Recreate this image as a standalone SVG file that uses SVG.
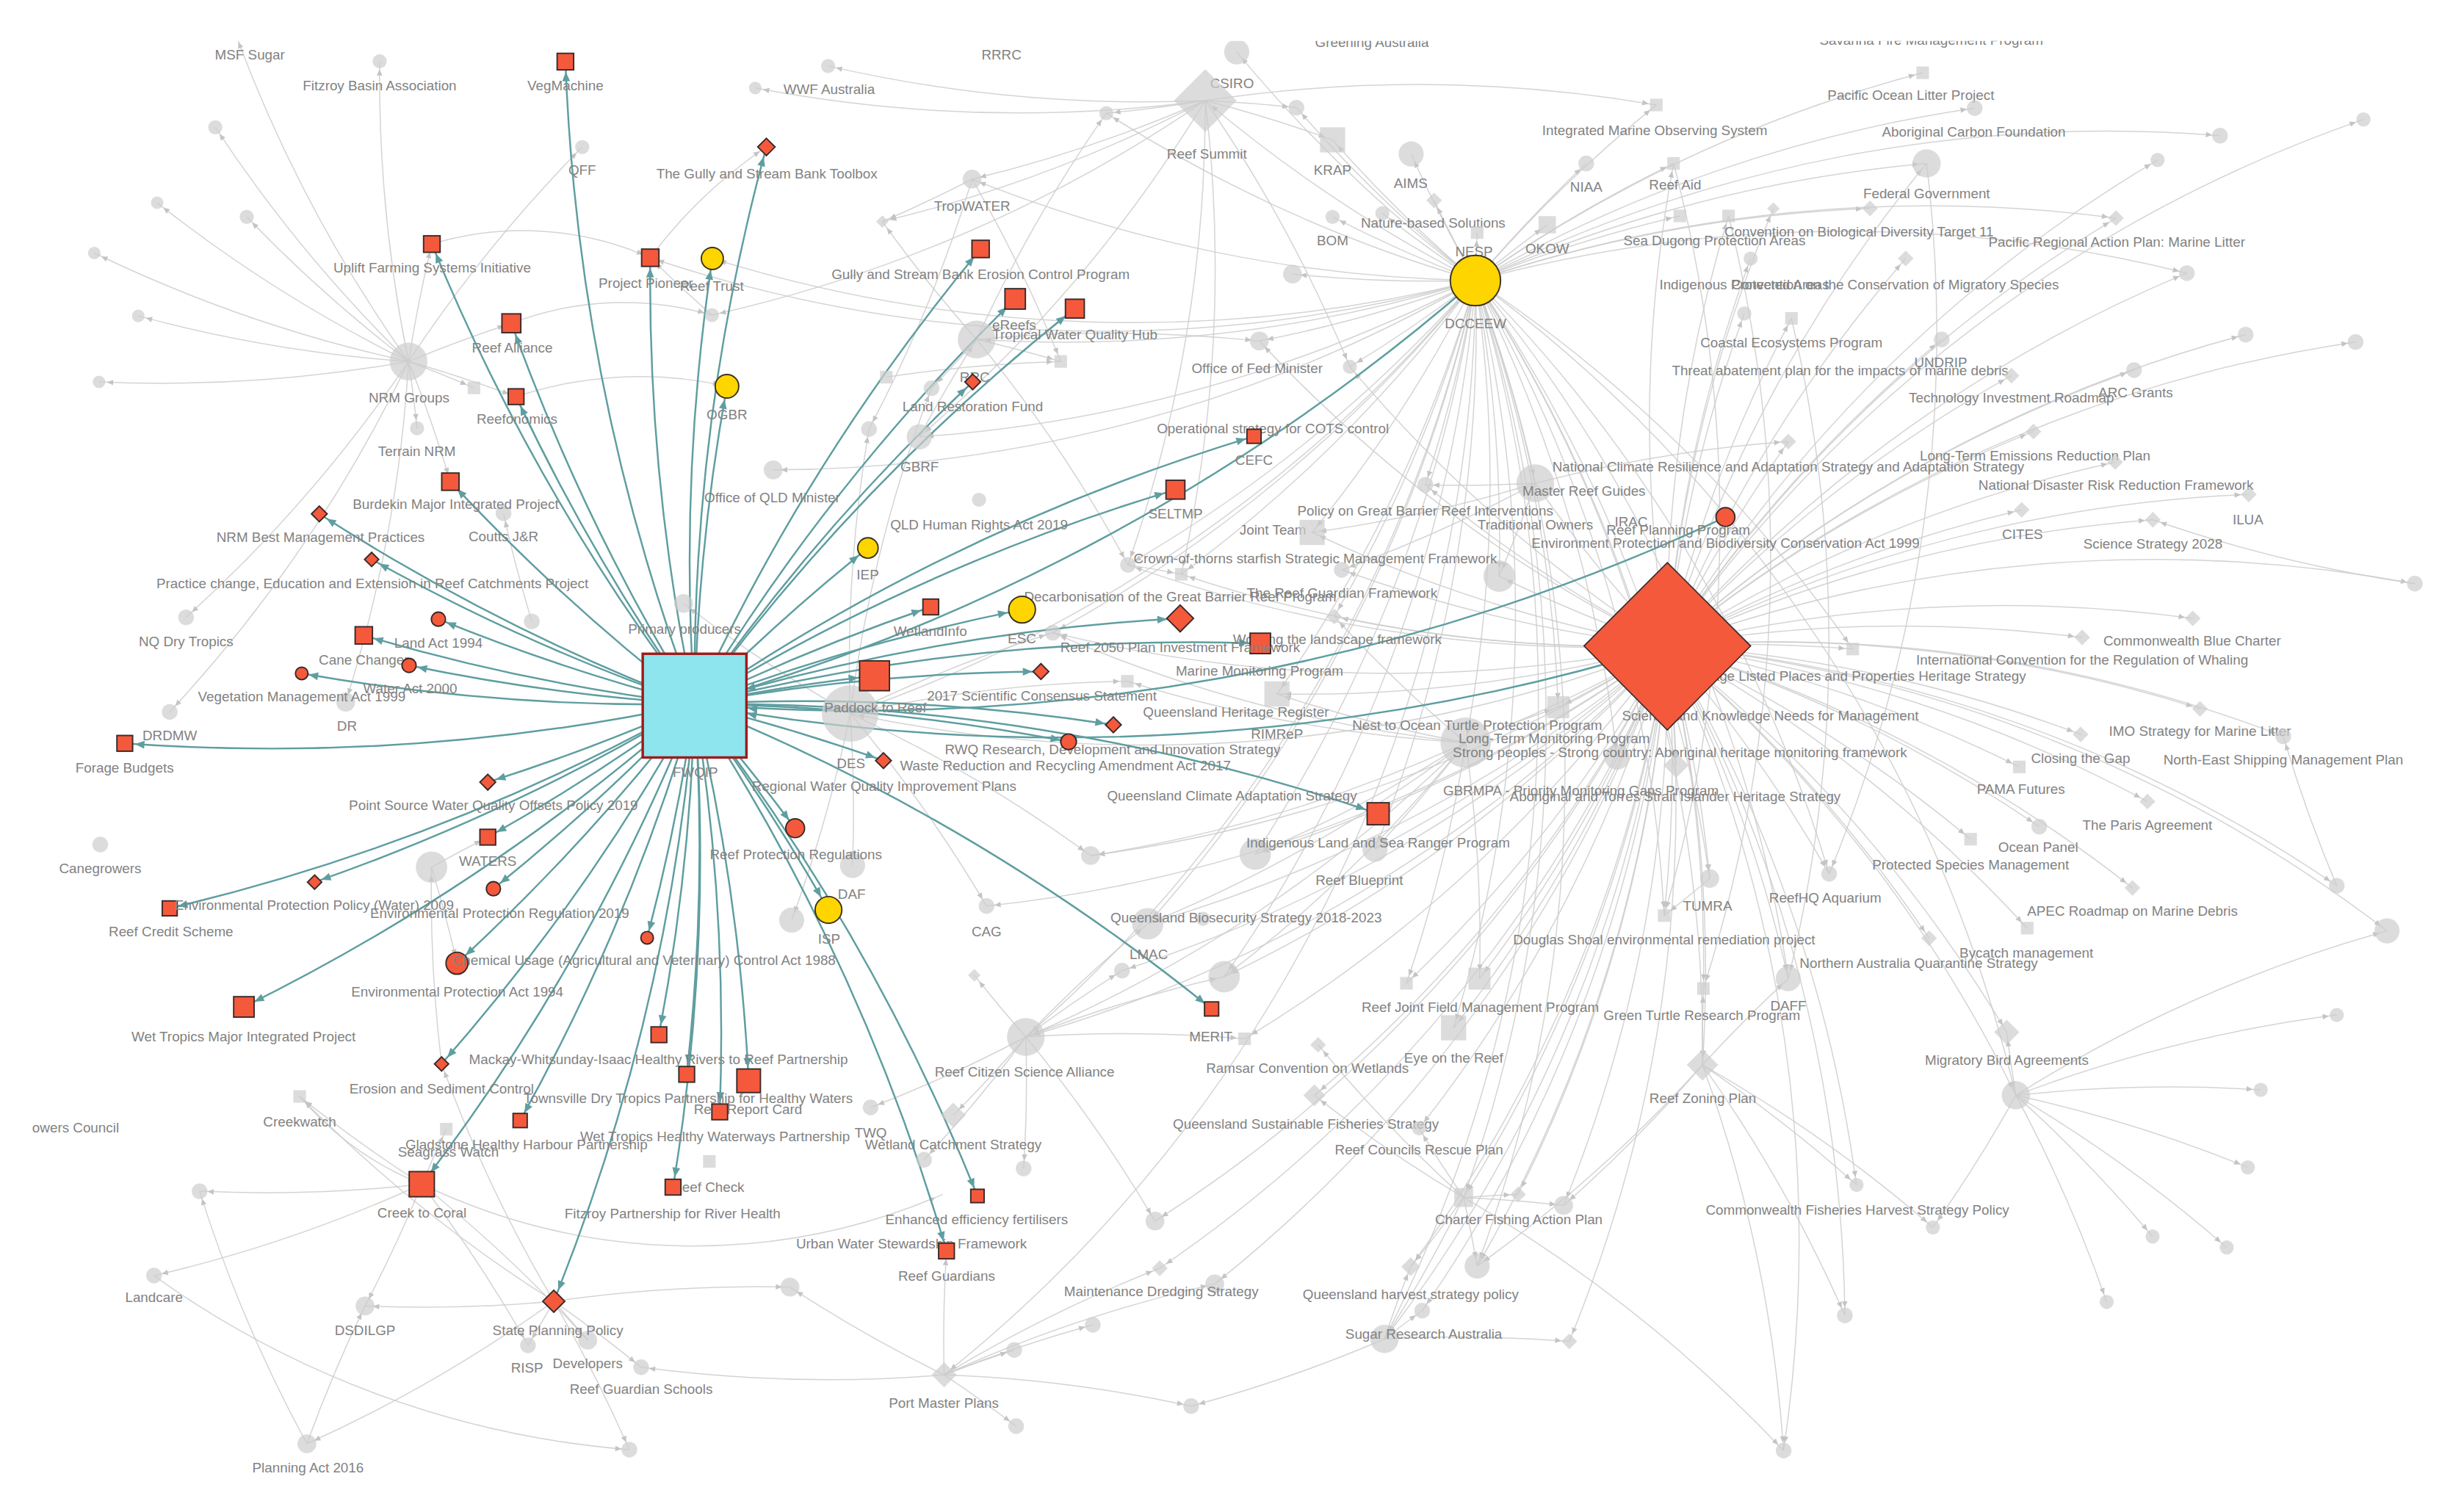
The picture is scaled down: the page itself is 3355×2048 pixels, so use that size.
<svg xmlns="http://www.w3.org/2000/svg" width="3355" height="2048" viewBox="0 0 3355 2048">
<defs>
<style>
.e{fill:none;stroke:#cdcdcd;stroke-width:.7;stroke-opacity:.85;marker-end:url(#ga)}
.t{fill:none;stroke:#5f9ea0;stroke-width:1.15}
.g{fill:#cdcdcd;fill-opacity:.7}
.r{fill:#f5593b;stroke:#3a2a2a;stroke-width:.9}
.y{fill:#ffd500;stroke:#3a3320;stroke-width:.9}
text{font-family:"Liberation Sans",Arial,Helvetica,sans-serif;font-size:8.8px;fill:#828282;text-anchor:middle}
</style>
<marker id="ga" markerUnits="userSpaceOnUse" markerWidth="4" markerHeight="3.5" refX="9" refY="1.75" orient="auto" overflow="visible"><path d="M0,0L4,1.75L0,3.5z" fill="#c4c4c4"/></marker>
<marker id="t4" markerUnits="userSpaceOnUse" markerWidth="6" markerHeight="5" refX="10.5" refY="2.5" orient="auto" overflow="visible"><path d="M0,0L6,2.5L0,5z" fill="#5f9ea0"/></marker>
<marker id="t5" markerUnits="userSpaceOnUse" markerWidth="6" markerHeight="5" refX="11.5" refY="2.5" orient="auto" overflow="visible"><path d="M0,0L6,2.5L0,5z" fill="#5f9ea0"/></marker>
<marker id="t6" markerUnits="userSpaceOnUse" markerWidth="6" markerHeight="5" refX="12.5" refY="2.5" orient="auto" overflow="visible"><path d="M0,0L6,2.5L0,5z" fill="#5f9ea0"/></marker>
<marker id="t7" markerUnits="userSpaceOnUse" markerWidth="6" markerHeight="5" refX="13.5" refY="2.5" orient="auto" overflow="visible"><path d="M0,0L6,2.5L0,5z" fill="#5f9ea0"/></marker>
<marker id="t8" markerUnits="userSpaceOnUse" markerWidth="6" markerHeight="5" refX="14.5" refY="2.5" orient="auto" overflow="visible"><path d="M0,0L6,2.5L0,5z" fill="#5f9ea0"/></marker>
<marker id="t9" markerUnits="userSpaceOnUse" markerWidth="6" markerHeight="5" refX="15.5" refY="2.5" orient="auto" overflow="visible"><path d="M0,0L6,2.5L0,5z" fill="#5f9ea0"/></marker>
<marker id="t10" markerUnits="userSpaceOnUse" markerWidth="6" markerHeight="5" refX="16.5" refY="2.5" orient="auto" overflow="visible"><path d="M0,0L6,2.5L0,5z" fill="#5f9ea0"/></marker>
<marker id="tF" markerUnits="userSpaceOnUse" markerWidth="6" markerHeight="5" refX="40" refY="2.5" orient="auto" overflow="visible"><path d="M0,0L6,2.5L0,5z" fill="#5f9ea0"/></marker>
<clipPath id="clip"><rect x="20" y="26" width="1536" height="927"/></clipPath>
</defs>
<rect width="3355" height="2048" fill="#ffffff"/>
<g transform="scale(2.1397 2.1400)" clip-path="url(#clip)">
<g id="connectors">
<g id="gray-edges">
<path class="e" d="M1061 411A900 900 0 0 1 1286.5 324.4"/>
<path class="e" d="M1061 411A900 900 0 0 1 1370 330.7"/>
<path class="e" d="M1061 411A900 900 0 0 1 1536.7 371.4"/>
<path class="e" d="M1061 411A900 900 0 0 1 1395.4 393.5"/>
<path class="e" d="M1061 411A900 900 0 0 1 1325 405.6"/>
<path class="e" d="M1061 411A900 900 0 0 1 1179 413"/>
<path class="e" d="M1061 411A900 900 0 0 1 1400 451"/>
<path class="e" d="M1061 411A900 900 0 0 1 1324 467.3"/>
<path class="e" d="M1061 411A900 900 0 0 1 1453 468.5"/>
<path class="e" d="M1061 411A900 900 0 0 1 1285 488"/>
<path class="e" d="M1061 411A900 900 0 0 1 1366.5 510"/>
<path class="e" d="M1061 411A900 900 0 0 1 1297.7 526"/>
<path class="e" d="M1061 411A900 900 0 0 1 1254 534"/>
<path class="e" d="M1061 411A900 900 0 0 1 1357 565"/>
<path class="e" d="M1061 411A900 900 0 0 1 1290 590.6"/>
<path class="e" d="M1061 411A900 900 0 0 1 1227.6 597"/>
<path class="e" d="M1061 411A900 900 0 0 1 1277 656.8"/>
<path class="e" d="M1061 411A900 900 0 0 1 1164 556"/>
<path class="e" d="M1061 411A900 900 0 0 1 1088 559"/>
<path class="e" d="M1061 411A900 900 0 0 1 1059 582.6"/>
<path class="e" d="M1061 411A900 900 0 0 1 1138 622.7"/>
<path class="e" d="M1061 411A900 900 0 0 1 1084 629"/>
<path class="e" d="M1061 411A900 900 0 0 1 1083.4 677.6"/>
<path class="e" d="M1061 411A900 900 0 0 1 1181.4 754"/>
<path class="e" d="M1061 411A900 900 0 0 1 1066.6 487"/>
<path class="e" d="M1061 411A900 900 0 0 1 991.6 450"/>
<path class="e" d="M1061 411A900 900 0 0 1 1029 481.8"/>
<path class="e" d="M1061 411A900 900 0 0 1 932.7 472.5"/>
<path class="e" d="M1061 411A900 900 0 0 1 977 307.5"/>
<path class="e" d="M1061 411A900 900 0 0 1 1114 164.5"/>
<path class="e" d="M1061 411A900 900 0 0 1 1110 199.5"/>
<path class="e" d="M1061 411A900 900 0 0 1 1140 202.6"/>
<path class="e" d="M1061 411A900 900 0 0 1 1138 281"/>
<path class="e" d="M1061 411A900 900 0 0 1 1235.6 216"/>
<path class="e" d="M1061 411A900 900 0 0 1 1280 239"/>
<path class="e" d="M1061 411A900 900 0 0 1 1294 274.6"/>
<path class="e" d="M1061 411A900 900 0 0 1 1346 294"/>
<path class="e" d="M1061 411A900 900 0 0 1 1431 314.6"/>
<path class="e" d="M1061 411A900 900 0 0 1 1358 235.5"/>
<path class="e" d="M1061 411A900 900 0 0 1 1346.5 138.8"/>
<path class="e" d="M1061 411A900 900 0 0 1 1212.7 164.5"/>
<path class="e" d="M1061 411A900 900 0 0 1 1128.5 132.7"/>
<path class="e" d="M1061 411A900 900 0 0 1 1100 137.4"/>
<path class="e" d="M1061 411A900 900 0 0 1 1065 104"/>
<path class="e" d="M1061 411A900 900 0 0 1 1226 104"/>
<path class="e" d="M1061 411A900 900 0 0 1 835 338.8"/>
<path class="e" d="M1061 411A900 900 0 0 1 954 366.6"/>
<path class="e" d="M1061 411A900 900 0 0 1 812.6 441.6"/>
<path class="e" d="M1061 411A900 900 0 0 1 849 392.3"/>
<path class="e" d="M1061 411A900 900 0 0 1 925 654"/>
<path class="e" d="M1061 411A900 900 0 0 1 941.5 622.7"/>
<path class="e" d="M1061 411A900 900 0 0 1 931.4 762"/>
<path class="e" d="M1061 411A900 900 0 0 1 995 767"/>
<path class="e" d="M1061 411A900 900 0 0 1 881 852"/>
<path class="e" d="M1061 411A900 900 0 0 1 998.6 853.5"/>
<path class="e" d="M1061 411A900 900 0 0 1 836.4 697"/>
<path class="e" d="M1061 411A900 900 0 0 1 730.4 587.8"/>
<path class="e" d="M1061 411A900 900 0 0 1 779 621.5"/>
<path class="e" d="M1061 411A900 900 0 0 1 875 540.4"/>
<path class="e" d="M1061 411A900 900 0 0 1 798.8 543.5"/>
<path class="e" d="M1061 411A900 900 0 0 1 1487 563.6"/>
<path class="e" d="M1061 411A900 900 0 0 1 1519 592.3"/>
<path class="e" d="M1061 411A900 900 0 0 1 1174 837"/>
<path class="e" d="M1061 411A900 900 0 0 1 1135 923"/>
<path class="e" d="M1061 411A900 900 0 0 1 1282.8 697"/>
<path class="e" d="M1061 411A900 900 0 0 1 1391.6 173.8"/>
<path class="e" d="M1061 411A900 900 0 0 1 1429 212.9"/>
<path class="e" d="M1061 411A900 900 0 0 1 1499 217.6"/>
<path class="e" d="M1061 411A900 900 0 0 1 1373 101.8"/>
<path class="e" d="M1061 411A900 900 0 0 1 1504 76"/>
<path class="e" d="M1061 411A900 900 0 0 1 652.8 659.8"/>
<path class="e" d="M1061 411A900 900 0 0 1 541 454"/>
<path class="e" d="M1061 411A900 900 0 0 1 627.8 576.5"/>
<path class="e" d="M1061 411A900 900 0 0 1 694 544.4"/>
<path class="e" d="M1061 411A900 900 0 0 1 714 617.6"/>
<path class="e" d="M1061 411A900 900 0 0 1 670 402.6"/>
<path class="e" d="M1061 411A900 900 0 0 1 717.8 359.4"/>
<path class="e" d="M1061 411A900 900 0 0 1 751.7 365.4"/>
<path class="e" d="M1061 411A900 900 0 0 1 801.4 217"/>
<path class="e" d="M1061 411A900 900 0 0 1 859 233.4"/>
<path class="e" d="M1061 411A900 900 0 0 1 907 308.5"/>
<path class="e" d="M1061 411A900 900 0 0 1 853.8 362.6"/>
<path class="e" d="M1061 411A900 900 0 0 1 895 625.7"/>
<path class="e" d="M1061 411A900 900 0 0 1 792 661"/>
<path class="e" d="M1061 411A900 900 0 0 1 735 777"/>
<path class="e" d="M1061 411A900 900 0 0 1 773 817"/>
<path class="e" d="M1061 411A900 900 0 0 1 738 807"/>
<path class="e" d="M1061 411A900 900 0 0 1 897.7 806"/>
<path class="e" d="M1061 411A900 900 0 0 1 940 805.6"/>
<path class="e" d="M1061 411A900 900 0 0 1 905 834"/>
<path class="e" d="M1061 411A900 900 0 0 1 966 760"/>
<path class="e" d="M1061 411A900 900 0 0 1 903 718"/>
<path class="e" d="M939 178.5A900 900 0 0 1 787 33"/>
<path class="e" d="M939 178.5A900 900 0 0 1 848 89"/>
<path class="e" d="M939 178.5A900 900 0 0 1 898 98"/>
<path class="e" d="M939 178.5A900 900 0 0 1 912.6 127.5"/>
<path class="e" d="M939 178.5A900 900 0 0 1 848 138"/>
<path class="e" d="M939 178.5A900 900 0 0 1 879.7 135.7"/>
<path class="e" d="M939 178.5A900 900 0 0 1 822.5 174.4"/>
<path class="e" d="M939 178.5A900 900 0 0 1 801.4 217"/>
<path class="e" d="M939 178.5A900 900 0 0 1 940 148"/>
<path class="e" d="M939 178.5A900 900 0 0 1 984.6 143"/>
<path class="e" d="M939 178.5A900 900 0 0 1 1009.4 104"/>
<path class="e" d="M939 178.5A900 900 0 0 1 1054 66.8"/>
<path class="e" d="M939 178.5A900 900 0 0 1 1065 104"/>
<path class="e" d="M939 178.5A900 900 0 0 1 1069 137.4"/>
<path class="e" d="M939 178.5A900 900 0 0 1 1226 104"/>
<path class="e" d="M939 178.5A900 900 0 0 1 1256.6 68.8"/>
<path class="e" d="M939 178.5A900 900 0 0 1 1223.5 46.3"/>
<path class="e" d="M939 178.5A900 900 0 0 1 977 307.5"/>
<path class="e" d="M939 178.5A900 900 0 0 1 907 308.5"/>
<path class="e" d="M939 178.5A900 900 0 0 1 859 233.4"/>
<path class="e" d="M939 178.5A900 900 0 0 1 767 64"/>
<path class="e" d="M939 178.5A900 900 0 0 1 492 299"/>
<path class="e" d="M939 178.5A900 900 0 0 1 585 278"/>
<path class="e" d="M939 178.5A900 900 0 0 1 621.5 216"/>
<path class="e" d="M939 178.5A900 900 0 0 1 932.7 472.5"/>
<path class="e" d="M939 178.5A900 900 0 0 1 1029 481.8"/>
<path class="e" d="M939 178.5A900 900 0 0 1 1083.4 677.6"/>
<path class="e" d="M939 178.5A900 900 0 0 1 925 654"/>
<path class="e" d="M939 178.5A900 900 0 0 1 954 366.6"/>
<path class="e" d="M939 178.5A900 900 0 0 1 835 338.8"/>
<path class="e" d="M939 178.5A900 900 0 0 1 1190 132.6"/>
<path class="e" d="M939 178.5A900 900 0 0 1 825 68.5"/>
<path class="e" d="M939 178.5A900 900 0 0 1 704 72"/>
<path class="e" d="M939 178.5A900 900 0 0 1 618.6 114"/>
<path class="e" d="M939 178.5A900 900 0 0 1 413.8 164"/>
<path class="e" d="M939 178.5A900 900 0 0 1 453.3 164.5"/>
<path class="e" d="M939 178.5A900 900 0 0 1 1412.7 86.3"/>
<path class="e" d="M939 178.5A900 900 0 0 1 1391.6 173.8"/>
<path class="e" d="M939 178.5A900 900 0 0 1 1346.5 138.8"/>
<path class="e" d="M939 178.5A900 900 0 0 1 812.6 441.6"/>
<path class="e" d="M939 178.5A900 900 0 0 1 991.6 450"/>
<path class="e" d="M939 178.5A900 900 0 0 1 1138 622.7"/>
<path class="e" d="M939 178.5A900 900 0 0 1 881 852"/>
<path class="e" d="M939 178.5A900 900 0 0 1 931.4 762"/>
<path class="e" d="M939 178.5A900 900 0 0 1 940 805.6"/>
<path class="e" d="M939 178.5A900 900 0 0 1 600.8 874.8"/>
<path class="e" d="M939 178.5A900 900 0 0 1 652.8 659.8"/>
<path class="e" d="M939 178.5A900 900 0 0 1 730.4 587.8"/>
<path class="e" d="M939 178.5A900 900 0 0 1 798.8 543.5"/>
<path class="e" d="M939 178.5A900 900 0 0 1 875 540.4"/>
<path class="e" d="M939 178.5A900 900 0 0 1 779 621.5"/>
<path class="e" d="M939 178.5A900 900 0 0 1 1066.6 487"/>
<path class="e" d="M939 178.5A900 900 0 0 1 1179 413"/>
<path class="e" d="M939 178.5A900 900 0 0 1 1164 556"/>
<path class="e" d="M939 178.5A900 900 0 0 1 1088 559"/>
<path class="e" d="M939 178.5A900 900 0 0 1 849 392.3"/>
<path class="e" d="M939 178.5A900 900 0 0 1 751.7 365.4"/>
<path class="e" d="M939 178.5A900 900 0 0 1 717.8 359.4"/>
<path class="e" d="M939 178.5A900 900 0 0 1 670 402.6"/>
<path class="e" d="M939 178.5A900 900 0 0 1 541 454"/>
<path class="e" d="M939 178.5A900 900 0 0 1 1282.8 697"/>
<path class="e" d="M939 178.5A900 900 0 0 1 1059 582.6"/>
<path class="e" d="M767 64A900 900 0 0 1 751.7 365.4"/>
<path class="e" d="M767 64A900 900 0 0 1 585 278"/>
<path class="e" d="M767 64A900 900 0 0 1 717.8 359.4"/>
<path class="e" d="M767 64A900 900 0 0 1 859 233.4"/>
<path class="e" d="M621.5 216A900 900 0 0 1 561.5 141"/>
<path class="e" d="M621.5 216A900 900 0 0 1 704 72"/>
<path class="e" d="M621.5 216A900 900 0 0 1 675 230"/>
<path class="e" d="M621.5 216A900 900 0 0 1 592.8 247"/>
<path class="e" d="M621.5 216A900 900 0 0 1 717.8 359.4"/>
<path class="e" d="M621.5 216A900 900 0 0 1 801.4 217"/>
<path class="e" d="M618.6 114A900 900 0 0 1 561.5 141"/>
<path class="e" d="M618.6 114A900 900 0 0 1 675 230"/>
<path class="e" d="M618.6 114A900 900 0 0 1 553 273"/>
<path class="e" d="M932.7 472.5A900 900 0 0 1 730.4 587.8"/>
<path class="e" d="M932.7 472.5A900 900 0 0 1 779 621.5"/>
<path class="e" d="M932.7 472.5A900 900 0 0 1 652.8 659.8"/>
<path class="e" d="M932.7 472.5A900 900 0 0 1 717.4 433.5"/>
<path class="e" d="M932.7 472.5A900 900 0 0 1 670 402.6"/>
<path class="e" d="M932.7 472.5A900 900 0 0 1 694 544.4"/>
<path class="e" d="M1065 104A900 900 0 0 1 1059 582.6"/>
<path class="e" d="M1140 202.6A900 900 0 0 1 1138 622.7"/>
<path class="e" d="M1226 104A900 900 0 0 1 1164 556"/>
<path class="e" d="M1100 137.4A900 900 0 0 1 1084 629"/>
<path class="e" d="M260 230A900 900 0 0 1 137 81"/>
<path class="e" d="M260 230A900 900 0 0 1 100 129"/>
<path class="e" d="M260 230A900 900 0 0 1 157 138"/>
<path class="e" d="M260 230A900 900 0 0 1 60 161"/>
<path class="e" d="M260 230A900 900 0 0 1 88 201"/>
<path class="e" d="M260 230A900 900 0 0 1 63 243"/>
<path class="e" d="M260 230A900 900 0 0 1 241.6 39"/>
<path class="e" d="M260 230A900 900 0 0 1 150 22"/>
<path class="e" d="M260 230A900 900 0 0 1 265.4 272.5"/>
<path class="e" d="M260 230A900 900 0 0 1 301.6 246.8"/>
<path class="e" d="M260 230A900 900 0 0 1 274.8 155.3"/>
<path class="e" d="M260 230A900 900 0 0 1 325.4 205.7"/>
<path class="e" d="M260 230A900 900 0 0 1 118.4 392.8"/>
<path class="e" d="M260 230A900 900 0 0 1 220 446.8"/>
<path class="e" d="M260 230A900 900 0 0 1 108 453"/>
<path class="e" d="M260 230A900 900 0 0 1 286.6 306.5"/>
<path class="e" d="M260 230A900 900 0 0 1 328.4 252.4"/>
<path class="e" d="M260 230A900 900 0 0 1 370.5 93.6"/>
<path class="e" d="M274.8 155.3A200 200 0 0 1 413.8 164"/>
<path class="e" d="M325.4 205.7A200 200 0 0 1 453 200.5"/>
<path class="e" d="M328.4 252.4A250 250 0 0 1 462.6 245.8"/>
<path class="e" d="M413.8 164A300 300 0 0 1 487.7 93.5"/>
<path class="e" d="M268.4 753.5A900 900 0 0 1 98 811.7"/>
<path class="e" d="M268.4 753.5A900 900 0 0 1 190.7 697.7"/>
<path class="e" d="M268.4 753.5A900 900 0 0 1 284 718.5"/>
<path class="e" d="M268.4 753.5A900 900 0 0 1 232.3 831"/>
<path class="e" d="M268.4 753.5A900 900 0 0 1 374 852.8"/>
<path class="e" d="M268.4 753.5A900 900 0 0 1 127 758"/>
<path class="e" d="M268.4 753.5A900 900 0 0 1 336 856"/>
<path class="e" d="M190.7 697.7A200 200 0 0 0 268.4 753.5"/>
<path class="e" d="M268.4 753.5A400 400 0 0 0 600 760"/>
<path class="e" d="M352.4 828A900 900 0 0 1 232.3 831"/>
<path class="e" d="M352.4 828A900 900 0 0 1 336 856"/>
<path class="e" d="M352.4 828A900 900 0 0 1 374 852.8"/>
<path class="e" d="M352.4 828A900 900 0 0 1 408 870"/>
<path class="e" d="M352.4 828A900 900 0 0 1 195.3 918.7"/>
<path class="e" d="M352.4 828A900 900 0 0 1 400.5 922.4"/>
<path class="e" d="M352.4 828A900 900 0 0 1 281 677"/>
<path class="e" d="M352.4 828A900 900 0 0 1 502.7 819"/>
<path class="e" d="M352.4 828A900 900 0 0 1 190.7 697.7"/>
<path class="e" d="M195.3 918.7A900 900 0 0 1 127 758"/>
<path class="e" d="M195.3 918.7A900 900 0 0 1 232.3 831"/>
<path class="e" d="M98 811.7A600 600 0 0 0 400.5 922.4"/>
<path class="e" d="M767 64A900 900 0 0 1 527 42"/>
<path class="e" d="M767 64A900 900 0 0 1 480.6 56"/>
<path class="e" d="M767 64A900 900 0 0 1 618.6 114"/>
<path class="e" d="M767 64A900 900 0 0 1 704 72"/>
<path class="e" d="M767 64A900 900 0 0 1 561.5 141"/>
<path class="e" d="M767 64A900 900 0 0 1 825 68.5"/>
<path class="e" d="M767 64A900 900 0 0 1 848 89"/>
<path class="e" d="M767 64A900 900 0 0 1 1054 66.8"/>
<path class="e" d="M767 64A900 900 0 0 1 453 200.5"/>
<path class="e" d="M600.8 874.8A900 900 0 0 1 502.7 819"/>
<path class="e" d="M600.8 874.8A900 900 0 0 1 695.4 843"/>
<path class="e" d="M600.8 874.8A900 900 0 0 1 645.4 859"/>
<path class="e" d="M600.8 874.8A900 900 0 0 1 738 807"/>
<path class="e" d="M600.8 874.8A900 900 0 0 1 773 817"/>
<path class="e" d="M600.8 874.8A900 900 0 0 1 408 870"/>
<path class="e" d="M600.8 874.8A900 900 0 0 1 646.6 907.5"/>
<path class="e" d="M600.8 874.8A900 900 0 0 1 758 894.7"/>
<path class="e" d="M600.8 874.8A900 900 0 0 1 602.3 796"/>
<path class="e" d="M652.8 659.8A900 900 0 0 1 606.6 709.6"/>
<path class="e" d="M652.8 659.8A900 900 0 0 1 554 704.7"/>
<path class="e" d="M652.8 659.8A900 900 0 0 1 588 738"/>
<path class="e" d="M652.8 659.8A900 900 0 0 1 651.4 743.5"/>
<path class="e" d="M652.8 659.8A900 900 0 0 1 735 777"/>
<path class="e" d="M652.8 659.8A900 900 0 0 1 730.4 587.8"/>
<path class="e" d="M652.8 659.8A900 900 0 0 1 779 621.5"/>
<path class="e" d="M652.8 659.8A900 900 0 0 1 620 620.6"/>
<path class="e" d="M652.8 659.8A900 900 0 0 1 714 617.6"/>
<path class="e" d="M652.8 659.8A900 900 0 0 1 792 661"/>
<path class="e" d="M931.4 762A900 900 0 0 1 897.7 806"/>
<path class="e" d="M931.4 762A900 900 0 0 1 940 805.6"/>
<path class="e" d="M931.4 762A900 900 0 0 1 966 760"/>
<path class="e" d="M931.4 762A900 900 0 0 1 995 767"/>
<path class="e" d="M931.4 762A900 900 0 0 1 838.8 664.8"/>
<path class="e" d="M931.4 762A900 900 0 0 1 836.4 697"/>
<path class="e" d="M931.4 762A900 900 0 0 1 881 852"/>
<path class="e" d="M931.4 762A900 900 0 0 1 1135 923"/>
<path class="e" d="M931.4 762A900 900 0 0 1 903 718"/>
<path class="e" d="M881 852A900 900 0 0 1 905 834"/>
<path class="e" d="M881 852A900 900 0 0 1 998.6 853.5"/>
<path class="e" d="M881 852A900 900 0 0 1 897.7 806"/>
<path class="e" d="M881 852A900 900 0 0 1 758 894.7"/>
<path class="e" d="M1083.4 677.6A900 900 0 0 1 1174 837"/>
<path class="e" d="M1083.4 677.6A900 900 0 0 1 1181.4 754"/>
<path class="e" d="M1083.4 677.6A900 900 0 0 1 1084 629"/>
<path class="e" d="M1083.4 677.6A900 900 0 0 1 1138 622.7"/>
<path class="e" d="M1083.4 677.6A900 900 0 0 1 995 767"/>
<path class="e" d="M1083.4 677.6A900 900 0 0 1 940 805.6"/>
<path class="e" d="M1083.4 677.6A900 900 0 0 1 1230 781"/>
<path class="e" d="M1083.4 677.6A900 900 0 0 1 1135 923"/>
<path class="e" d="M1282.8 697A900 900 0 0 1 1438.6 693.5"/>
<path class="e" d="M1282.8 697A900 900 0 0 1 1430.4 742.8"/>
<path class="e" d="M1282.8 697A900 900 0 0 1 1369.8 786.8"/>
<path class="e" d="M1282.8 697A900 900 0 0 1 1417 793.8"/>
<path class="e" d="M1282.8 697A900 900 0 0 1 1340.6 828.4"/>
<path class="e" d="M1282.8 697A900 900 0 0 1 1277 656.8"/>
<path class="e" d="M1282.8 697A900 900 0 0 1 1230 781"/>
<path class="e" d="M1282.8 697A900 900 0 0 1 1487 645.8"/>
<path class="e" d="M1282.8 697A900 900 0 0 1 1519 592.3"/>
<path class="e" d="M977 307.5A900 900 0 0 1 907 308.5"/>
<path class="e" d="M977 307.5A900 900 0 0 1 954 366.6"/>
<path class="e" d="M977 307.5A900 900 0 0 1 853.8 362.6"/>
<path class="e" d="M977 307.5A900 900 0 0 1 835 338.8"/>
<path class="e" d="M977 307.5A900 900 0 0 1 1138 281"/>
<path class="e" d="M932.7 472.5A900 900 0 0 1 849 392.3"/>
<path class="e" d="M932.7 472.5A900 900 0 0 1 812.6 441.6"/>
<path class="e" d="M932.7 472.5A900 900 0 0 1 875 540.4"/>
<path class="e" d="M932.7 472.5A900 900 0 0 1 798.8 543.5"/>
<path class="e" d="M932.7 472.5A900 900 0 0 1 941.5 622.7"/>
<path class="e" d="M932.7 472.5A900 900 0 0 1 895 625.7"/>
<path class="e" d="M932.7 472.5A900 900 0 0 1 991.6 450"/>
<path class="e" d="M541 454A900 900 0 0 1 627.8 576.5"/>
<path class="e" d="M541 454A900 900 0 0 1 542.5 550.7"/>
<path class="e" d="M541 454A900 900 0 0 1 503.8 585.5"/>
<path class="e" d="M541 454A900 900 0 0 1 694 544.4"/>
<path class="e" d="M541 454A900 900 0 0 1 435 384"/>
<path class="e" d="M541 454A900 900 0 0 1 670 402.6"/>
<path class="e" d="M541 454A900 900 0 0 1 717.4 433.5"/>
<path class="e" d="M541 454A900 900 0 0 1 592.8 247"/>
<path class="e" d="M541 454A900 900 0 0 1 553 273"/>
<path class="e" d="M585 278A900 900 0 0 1 621.5 216"/>
<path class="e" d="M564 240A900 900 0 0 1 675 230"/>
<path class="e" d="M717.8 359.4A900 900 0 0 1 751.7 365.4"/>
<path class="e" d="M1088 559A900 900 0 0 1 1059 582.6"/>
<path class="e" d="M1487 563.6A900 900 0 0 1 1453 468.5"/>
<path class="e" d="M338.4 395.4A900 900 0 0 1 320.4 326.6"/>
<path class="e" d="M274.6 551.8A900 900 0 0 1 310.4 532.7"/>
<path class="e" d="M274.6 551.8A900 900 0 0 1 290.8 612.9"/>
<path class="e" d="M281 677A900 900 0 0 1 274.6 551.8"/>
<path class="e" d="M1536.7 371.4A900 900 0 0 1 1370 330.7"/>
<path class="e" d="M453 200.5A900 900 0 0 1 413.8 164"/>
</g>
<g id="fwqip-edges">
<path class="t" d="M442 448A1300 1300 0 0 1 359.8 39.2" marker-end="url(#t6)"/>
<path class="t" d="M442 448A1300 1300 0 0 1 274.8 155.3" marker-end="url(#t6)"/>
<path class="t" d="M442 448A1300 1300 0 0 1 413.8 164" marker-end="url(#t6)"/>
<path class="t" d="M442 448A1300 1300 0 0 1 325.4 205.7" marker-end="url(#t7)"/>
<path class="t" d="M442 448A1300 1300 0 0 1 328.4 252.4" marker-end="url(#t6)"/>
<path class="t" d="M442 448A1300 1300 0 0 1 286.6 306.5" marker-end="url(#t6)"/>
<path class="t" d="M442 448A1300 1300 0 0 1 231.5 404.3" marker-end="url(#t6)"/>
<path class="t" d="M442 448A1300 1300 0 0 1 79.4 473" marker-end="url(#t6)"/>
<path class="t" d="M442 448A1300 1300 0 0 1 310.4 532.7" marker-end="url(#t6)"/>
<path class="t" d="M442 448A1300 1300 0 0 1 108 578" marker-end="url(#t5)"/>
<path class="t" d="M442 448A1300 1300 0 0 1 155.2 640.7" marker-end="url(#t7)"/>
<path class="t" d="M442 448A1300 1300 0 0 1 268.4 753.5" marker-end="url(#t9)"/>
<path class="t" d="M442 448A1300 1300 0 0 1 331 713" marker-end="url(#t5)"/>
<path class="t" d="M442 448A1300 1300 0 0 1 419.3 658.4" marker-end="url(#t6)"/>
<path class="t" d="M442 448A1300 1300 0 0 1 437 683.6" marker-end="url(#t6)"/>
<path class="t" d="M442 448A1300 1300 0 0 1 476.4 687.7" marker-end="url(#t8)"/>
<path class="t" d="M442 448A1300 1300 0 0 1 458 707.5" marker-end="url(#t6)"/>
<path class="t" d="M442 448A1300 1300 0 0 1 428.3 755.4" marker-end="url(#t6)"/>
<path class="t" d="M442 448A1300 1300 0 0 1 622 761" marker-end="url(#t5)"/>
<path class="t" d="M442 448A1300 1300 0 0 1 602.3 796" marker-end="url(#t6)"/>
<path class="t" d="M442 448A1300 1300 0 0 1 771 642" marker-end="url(#t5)"/>
<path class="t" d="M442 448A1300 1300 0 0 1 877 517.8" marker-end="url(#t8)"/>
<path class="t" d="M442 448A1300 1300 0 0 1 556.5 430" marker-end="url(#t10)"/>
<path class="t" d="M442 448A1300 1300 0 0 1 592.3 386.2" marker-end="url(#t6)"/>
<path class="t" d="M442 448A1300 1300 0 0 1 802 409.4" marker-end="url(#t7)"/>
<path class="t" d="M442 448A1300 1300 0 0 1 748 311.6" marker-end="url(#t7)"/>
<path class="t" d="M442 448A1300 1300 0 0 1 798 277.6" marker-end="url(#t5)"/>
<path class="t" d="M442 448A1300 1300 0 0 1 624 158.4" marker-end="url(#t6)"/>
<path class="t" d="M442 448A1300 1300 0 0 1 646 190.2" marker-end="url(#t7)"/>
<path class="t" d="M442 448A1300 1300 0 0 1 684 196.4" marker-end="url(#t7)"/>
<path class="t" d="M442 448A1300 1300 0 0 1 453.3 164.5" marker-end="url(#t7)"/>
<path class="t" d="M442 448A1300 1300 0 0 1 462.6 245.8" marker-end="url(#t8)"/>
<path class="t" d="M442 448A1300 1300 0 0 1 552.3 348.7" marker-end="url(#t7)"/>
<path class="t" d="M442 448A1300 1300 0 0 1 650.4 387.9" marker-end="url(#t9)"/>
<path class="t" d="M442 448A1300 1300 0 0 1 527.2 579" marker-end="url(#t9)"/>
<path class="t" d="M442 448A1300 1300 0 0 1 487.7 93.5" marker-end="url(#t6)"/>
<path class="t" d="M442 448A1300 1300 0 0 1 619 243" marker-end="url(#t5)"/>
<path class="t" d="M442 448A1300 1300 0 0 1 203.2 327" marker-end="url(#t5)"/>
<path class="t" d="M442 448A1300 1300 0 0 1 236.5 356" marker-end="url(#t5)"/>
<path class="t" d="M442 448A1300 1300 0 0 1 310.4 497.7" marker-end="url(#t5)"/>
<path class="t" d="M442 448A1300 1300 0 0 1 200.2 561.3" marker-end="url(#t4)"/>
<path class="t" d="M442 448A1300 1300 0 0 1 281 677" marker-end="url(#t5)"/>
<path class="t" d="M442 448A1300 1300 0 0 1 352.4 828" marker-end="url(#t7)"/>
<path class="t" d="M442 448A1300 1300 0 0 1 751 393.5" marker-end="url(#t8)"/>
<path class="t" d="M442 448A1300 1300 0 0 1 662.4 427.3" marker-end="url(#t5)"/>
<path class="t" d="M442 448A1300 1300 0 0 1 708.5 461.2" marker-end="url(#t5)"/>
<path class="t" d="M442 448A1300 1300 0 0 1 562.2 484" marker-end="url(#t5)"/>
<path class="t" d="M442 448A1300 1300 0 0 1 279 394" marker-end="url(#t5)"/>
<path class="t" d="M442 448A1300 1300 0 0 1 260.3 423.4" marker-end="url(#t5)"/>
<path class="t" d="M442 448A1300 1300 0 0 1 192 428.5" marker-end="url(#t4)"/>
<path class="t" d="M442 448A1300 1300 0 0 1 314 565.5" marker-end="url(#t5)"/>
<path class="t" d="M442 448A1300 1300 0 0 1 290.8 612.9" marker-end="url(#t7)"/>
<path class="t" d="M442 448A1300 1300 0 0 1 411.8 596.7" marker-end="url(#t4)"/>
<path class="t" d="M442 448A1300 1300 0 0 1 506 527" marker-end="url(#t6)"/>
<path class="t" d="M442 448A1300 1300 0 0 1 680 472" marker-end="url(#t5)"/>
<path class="t" d="M938.9 178.5A1300 1300 0 0 1 442 448" marker-end="url(#tF)"/>
<path class="t" d="M1061 411A1300 1300 0 0 1 442 448" marker-end="url(#tF)"/>
<path class="t" d="M1098 329A1300 1300 0 0 1 442 448" marker-end="url(#tF)"/>
</g>
</g>
<g id="nodes">
<g id="gray-nodes">
<g id="u1"><circle class="g" cx="137" cy="81" r="4.5"/></g>
<g id="u2"><circle class="g" cx="100" cy="129" r="4"/></g>
<g id="u3"><circle class="g" cx="157" cy="138" r="4.5"/></g>
<g id="u4"><circle class="g" cx="60" cy="161" r="4"/></g>
<g id="u5"><circle class="g" cx="88" cy="201" r="4"/></g>
<g id="u6"><circle class="g" cx="63" cy="243" r="4"/></g>
<g id="u7"><rect class="g" x="297.6" y="242.8" width="8" height="8"/></g>
<g id="u8"><circle class="g" cx="480.6" cy="56" r="4"/></g>
<g id="u9"><circle class="g" cx="704" cy="72" r="4.5"/></g>
<g id="u10"><polygon class="g" points="561.5,137 565.5,141 561.5,145 557.5,141"/></g>
<g id="u11"><circle class="g" cx="453" cy="200.5" r="4.5"/></g>
<g id="u12"><rect class="g" x="671" y="226" width="8" height="8"/></g>
<g id="u13"><rect class="g" x="560" y="236" width="8" height="8"/></g>
<g id="u14"><circle class="g" cx="592.8" cy="247" r="5"/></g>
<g id="u15"><circle class="g" cx="553" cy="273" r="5"/></g>
<g id="u16"><circle class="g" cx="825" cy="68.5" r="5"/></g>
<g id="u17"><circle class="g" cx="879.7" cy="135.7" r="4.5"/></g>
<g id="u18"><circle class="g" cx="822.5" cy="174.4" r="6"/></g>
<g id="u19"><circle class="g" cx="859" cy="233.4" r="4.5"/></g>
<g id="u20"><rect class="g" x="1096" y="133.4" width="8" height="8"/></g>
<g id="u21"><polygon class="g" points="1128.5,128.7 1132.5,132.7 1128.5,136.7 1124.5,132.7"/></g>
<g id="u22"><circle class="g" cx="1412.7" cy="86.3" r="5"/></g>
<g id="u23"><circle class="g" cx="1373" cy="101.8" r="4.5"/></g>
<g id="u24"><circle class="g" cx="1504" cy="76" r="4.5"/></g>
<g id="u25"><circle class="g" cx="1391.6" cy="173.8" r="5"/></g>
<g id="u26"><circle class="g" cx="1429" cy="212.9" r="5"/></g>
<g id="u27"><circle class="g" cx="1499" cy="217.6" r="5"/></g>
<g id="u28"><circle class="g" cx="1536.7" cy="371.4" r="5"/></g>
<g id="u29"><circle class="g" cx="1487" cy="563.6" r="5"/></g>
<g id="u30"><circle class="g" cx="1519" cy="592.3" r="8"/></g>
<g id="u31"><circle class="g" cx="1282.8" cy="697" r="9"/></g>
<g id="u32"><circle class="g" cx="1438.6" cy="693.5" r="4.5"/></g>
<g id="u33"><circle class="g" cx="1430.4" cy="742.8" r="4.5"/></g>
<g id="u34"><circle class="g" cx="1369.8" cy="786.8" r="4.5"/></g>
<g id="u35"><circle class="g" cx="1417" cy="793.8" r="4.5"/></g>
<g id="u36"><circle class="g" cx="1340.6" cy="828.4" r="4.5"/></g>
<g id="u37"><circle class="g" cx="1230" cy="781" r="4.5"/></g>
<g id="u38"><circle class="g" cx="1487" cy="645.8" r="4.5"/></g>
<g id="u39"><rect class="g" x="788" y="657" width="8" height="8"/></g>
<g id="u40"><rect class="g" x="925.4" y="756" width="12" height="12"/></g>
<g id="u41"><circle class="g" cx="995" cy="767" r="6"/></g>
<g id="u42"><circle class="g" cx="940" cy="805.6" r="8"/></g>
<g id="u43"><circle class="g" cx="881" cy="852" r="9"/></g>
<g id="u44"><polygon class="g" points="998.6,848.5 1003.6,853.5 998.6,858.5 993.6,853.5"/></g>
<g id="u45"><circle class="g" cx="1135" cy="923" r="5"/></g>
<g id="u46"><circle class="g" cx="1174" cy="837" r="5"/></g>
<g id="u47"><circle class="g" cx="588" cy="738" r="5"/></g>
<g id="u48"><circle class="g" cx="651.4" cy="743.5" r="5"/></g>
<g id="u49"><circle class="g" cx="735" cy="777" r="6"/></g>
<g id="u50"><circle class="g" cx="502.7" cy="819" r="6"/></g>
<g id="u51"><circle class="g" cx="773" cy="817" r="6"/></g>
<g id="u52"><circle class="g" cx="695.4" cy="843" r="5"/></g>
<g id="u53"><circle class="g" cx="645.4" cy="859" r="5"/></g>
<g id="u54"><circle class="g" cx="646.6" cy="907.5" r="5"/></g>
<g id="u55"><circle class="g" cx="758" cy="894.7" r="5"/></g>
<g id="u56"><circle class="g" cx="400.5" cy="922.4" r="5"/></g>
<g id="u57"><circle class="g" cx="127" cy="758" r="5"/></g>
<g id="u58"><circle class="g" cx="274.6" cy="551.8" r="10"/></g>
<g id="u59"><circle class="g" cx="338.4" cy="395.4" r="5"/></g>
<g id="u60"><circle class="g" cx="717.8" cy="359.4" r="5"/></g>
<g id="u61"><circle class="g" cx="670" cy="402.6" r="5"/></g>
<g id="u62"><rect class="g" x="713.4" y="429.5" width="8" height="8"/></g>
<g id="u63"><circle class="g" cx="694" cy="544.4" r="6"/></g>
<g id="u64"><circle class="g" cx="503.8" cy="585.5" r="8"/></g>
<g id="u65"><polygon class="g" points="620,616.6 624,620.6 620,624.6 616,620.6"/></g>
<g id="u66"><circle class="g" cx="714" cy="617.6" r="5"/></g>
<g id="u67"><circle class="g" cx="779" cy="621.5" r="10"/></g>
<g id="u68"><circle class="g" cx="765.5" cy="584.6" r="4.5"/></g>
<g id="u69"><circle class="g" cx="798.8" cy="543.5" r="10"/></g>
<g id="u70"><rect class="g" x="891" y="621.7" width="8" height="8"/></g>
<g id="u71"><circle class="g" cx="954" cy="366.6" r="10"/></g>
<g id="u72"><circle class="g" cx="932.7" cy="472.5" r="16"/></g>
<g id="u73"><circle class="g" cx="1029" cy="481.8" r="8"/></g>
<g id="n-msf-sugar"><text x="159" y="38">MSF Sugar</text></g>
<g id="n-fitzroy-basin"><circle class="g" cx="241.6" cy="39" r="4.5"/><text x="241.6" y="57.5">Fitzroy Basin Association</text></g>
<g id="n-qff"><circle class="g" cx="370.5" cy="93.6" r="4.5"/><text x="370.5" y="111">QFF</text></g>
<g id="n-wwf"><circle class="g" cx="527" cy="42" r="4.5"/><text x="527.6" y="59.6">WWF Australia</text></g>
<g id="n-rrrc"><text x="637.3" y="38">RRRC</text></g>
<g id="n-csiro"><circle class="g" cx="787" cy="33" r="8"/><text x="784" y="56">CSIRO</text></g>
<g id="n-greening"><text x="873" y="29.7">Greening Australia</text></g>
<g id="n-fire"><text x="1229" y="28.7">Savanna Fire Management Program</text></g>
<g id="n-reef-summit"><polygon class="g" points="767,44 787,64 767,84 747,64"/><text x="768" y="101">Reef Summit</text></g>
<g id="n-krap"><rect class="g" x="840" y="81" width="16" height="16"/><text x="848" y="111">KRAP</text></g>
<g id="n-aims"><circle class="g" cx="898" cy="98" r="8"/><text x="897.7" y="119.8">AIMS</text></g>
<g id="n-niaa"><circle class="g" cx="1009.4" cy="104" r="5"/><text x="1009.4" y="121.8">NIAA</text></g>
<g id="n-reef-aid"><rect class="g" x="1061" y="100" width="8" height="8"/><text x="1066" y="120.6">Reef Aid</text></g>
<g id="n-imos"><rect class="g" x="1050" y="62.8" width="8" height="8"/><text x="1053" y="85.9">Integrated Marine Observing System</text></g>
<g id="n-nbs"><polygon class="g" points="912.6,122.5 917.6,127.5 912.6,132.5 907.6,127.5"/><text x="912" y="145">Nature-based Solutions</text></g>
<g id="n-bom"><circle class="g" cx="848" cy="138" r="4.5"/><text x="848" y="156">BOM</text></g>
<g id="n-nesp"><rect class="g" x="936" y="144" width="8" height="8"/><text x="938" y="163">NESP</text></g>
<g id="n-okow"><rect class="g" x="979.1" y="137.5" width="11" height="11"/><text x="984.6" y="161">OKOW</text></g>
<g id="n-dugong"><rect class="g" x="1065" y="133.4" width="8" height="8"/><text x="1091" y="156">Sea Dugong Protection Areas</text></g>
<g id="n-cbd"><polygon class="g" points="1190,127.6 1195,132.6 1190,137.6 1185,132.6"/><text x="1183" y="150.7">Convention on Biological Diversity Target 11</text></g>
<g id="n-polp"><rect class="g" x="1219.5" y="42.3" width="8" height="8"/><text x="1216" y="63.7">Pacific Ocean Litter Project</text></g>
<g id="n-acf"><circle class="g" cx="1256.6" cy="68.8" r="5"/><text x="1256" y="86.7">Aboriginal Carbon Foundation</text></g>
<g id="n-fedgov"><circle class="g" cx="1226" cy="104" r="9"/><text x="1226" y="126">Federal Government</text></g>
<g id="n-prap"><polygon class="g" points="1346.5,133.8 1351.5,138.8 1346.5,143.8 1341.5,138.8"/><text x="1347" y="157">Pacific Regional Action Plan: Marine Litter</text></g>
<g id="n-ipa"><circle class="g" cx="1114" cy="164.5" r="4.5"/><text x="1110" y="184">Indigenous Protected Areas</text></g>
<g id="n-cms"><polygon class="g" points="1212.7,159.5 1217.7,164.5 1212.7,169.5 1207.7,164.5"/><text x="1206" y="184">Convention on the Conservation of Migratory Species</text></g>
<g id="n-cep"><rect class="g" x="1136" y="198.6" width="8" height="8"/><text x="1140" y="221">Coastal Ecosystems Program</text></g>
<g id="n-undrip"><circle class="g" cx="1235.6" cy="216" r="5"/><text x="1235" y="233.8">UNDRIP</text></g>
<g id="n-tap"><circle class="g" cx="1110" cy="199.5" r="4.5"/><text x="1171" y="239">Threat abatement plan for the impacts of marine debris</text></g>
<g id="n-tir"><polygon class="g" points="1280,234 1285,239 1280,244 1275,239"/><text x="1280" y="256">Technology Investment Roadmap</text></g>
<g id="n-arc"><circle class="g" cx="1358" cy="235.5" r="5"/><text x="1359" y="253">ARC Grants</text></g>
<g id="n-lterp"><polygon class="g" points="1294,269.6 1299,274.6 1294,279.6 1289,274.6"/><text x="1295" y="293">Long-Term Emissions Reduction Plan</text></g>
<g id="n-ncras"><polygon class="g" points="1138,276 1143,281 1138,286 1133,281"/><text x="1138" y="300">National Climate Resilience and Adaptation Strategy and Adaptation Strategy</text></g>
<g id="n-ndrrf"><polygon class="g" points="1346,289 1351,294 1346,299 1341,294"/><text x="1346.5" y="311.5">National Disaster Risk Reduction Framework</text></g>
<g id="n-ilua"><polygon class="g" points="1431,309.6 1436,314.6 1431,319.6 1426,314.6"/><text x="1430.5" y="333.7">ILUA</text></g>
<g id="n-cites"><polygon class="g" points="1286.5,319.4 1291.5,324.4 1286.5,329.4 1281.5,324.4"/><text x="1287" y="342.8">CITES</text></g>
<g id="n-science"><polygon class="g" points="1370,325.7 1375,330.7 1370,335.7 1365,330.7"/><text x="1370" y="349">Science Strategy 2028</text></g>
<g id="n-mrg"><circle class="g" cx="977" cy="307.5" r="12"/><text x="1008" y="315.6">Master Reef Guides</text></g>
<g id="n-traditional"><text x="977" y="336.7">Traditional Owners</text></g>
<g id="n-irac"><text x="1038" y="335">IRAC</text></g>
<g id="n-rpp"><text x="1068" y="340">Reef Planning Program</text></g>
<g id="n-policygbr"><circle class="g" cx="907" cy="308.5" r="5"/><text x="907" y="328">Policy on Great Barrier Reef Interventions</text></g>
<g id="n-jointteam-lbl"><text x="810" y="340">Joint Team</text></g>
<g id="n-cots"><rect class="g" x="827" y="330.8" width="16" height="16"/><text x="837" y="358.5">Crown-of-thorns starfish Strategic Management Framework</text></g>
<g id="n-grf"><circle class="g" cx="853.8" cy="362.6" r="5"/><text x="854" y="380.6">The Reef Guardian Framework</text></g>
<g id="n-wlf"><polygon class="g" points="849,387.3 854,392.3 849,397.3 844,392.3"/><text x="851" y="409.6">Working the landscape framework</text></g>
<g id="n-decarb"><rect class="g" x="747.7" y="361.4" width="8" height="8"/><text x="751" y="382.5">Decarbonisation of the Great Barrier Reef Program</text></g>
<g id="n-rimrep"><rect class="g" x="804.6" y="433.6" width="16" height="16"/><text x="812.6" y="470">RIMReP</text></g>
<g id="n-qhr"><text x="786.5" y="456">Queensland Heritage Register</text></g>
<g id="n-ltmp"><rect class="g" x="984.6" y="443" width="14" height="14"/><text x="989" y="473">Long-Term Monitoring Program</text></g>
<g id="n-nest"><text x="940" y="464.7">Nest to Ocean Turtle Protection Program</text></g>
<g id="n-strong"><text x="1069" y="481.7">Strong peoples - Strong country: Aboriginal heritage monitoring framework</text></g>
<g id="n-sknm"><text x="1126.5" y="458.6">Science and Knowledge Needs for Management</text></g>
<g id="n-gbrmpa-gaps"><text x="1006" y="506">GBRMPA - Priority Monitoring Gaps Program</text></g>
<g id="n-atsihs"><polygon class="g" points="1066.6,479 1074.6,487 1066.6,495 1058.6,487"/><text x="1066" y="509.6">Aboriginal and Torres Strait Islander Heritage Strategy</text></g>
<g id="n-heritage"><rect class="g" x="1175" y="409" width="8" height="8"/><text x="1180" y="433">Heritage Listed Places and Properties Heritage Strategy</text></g>
<g id="n-whaling"><polygon class="g" points="1325,400.6 1330,405.6 1325,410.6 1320,405.6"/><text x="1325" y="423">International Convention for the Regulation of Whaling</text></g>
<g id="n-blue"><polygon class="g" points="1395.4,388.5 1400.4,393.5 1395.4,398.5 1390.4,393.5"/><text x="1395" y="410.8">Commonwealth Blue Charter</text></g>
<g id="n-imo"><polygon class="g" points="1400,446 1405,451 1400,456 1395,451"/><text x="1400" y="468">IMO Strategy for Marine Litter</text></g>
<g id="n-gap"><polygon class="g" points="1324,462.3 1329,467.3 1324,472.3 1319,467.3"/><text x="1324" y="485.4">Closing the Gap</text></g>
<g id="n-nesmp"><circle class="g" cx="1453" cy="468.5" r="5"/><text x="1453" y="486.5">North-East Shipping Management Plan</text></g>
<g id="n-pama"><rect class="g" x="1281" y="484" width="8" height="8"/><text x="1286" y="505">PAMA Futures</text></g>
<g id="n-paris"><polygon class="g" points="1366.5,505 1371.5,510 1366.5,515 1361.5,510"/><text x="1366.5" y="528">The Paris Agreement</text></g>
<g id="n-oceanpanel"><circle class="g" cx="1297.7" cy="526" r="5"/><text x="1297" y="542">Ocean Panel</text></g>
<g id="n-psm"><rect class="g" x="1250" y="530" width="8" height="8"/><text x="1254" y="553.3">Protected Species Management</text></g>
<g id="n-apec"><polygon class="g" points="1357,560 1362,565 1357,570 1352,565"/><text x="1357" y="582.5">APEC Roadmap on Marine Debris</text></g>
<g id="n-bycatch"><rect class="g" x="1286" y="586.6" width="8" height="8"/><text x="1289.5" y="609.5">Bycatch management</text></g>
<g id="n-naqs"><polygon class="g" points="1227.6,592 1232.6,597 1227.6,602 1222.6,597"/><text x="1221" y="615.8">Northern Australia Quarantine Strategy</text></g>
<g id="n-reefhq"><circle class="g" cx="1164" cy="556" r="5"/><text x="1161.5" y="574.3">ReefHQ Aquarium</text></g>
<g id="n-tumra"><circle class="g" cx="1088" cy="559" r="6"/><text x="1086.6" y="579.4">TUMRA</text></g>
<g id="n-douglas"><rect class="g" x="1055" y="578.6" width="8" height="8"/><text x="1059" y="601">Douglas Shoal environmental remediation project</text></g>
<g id="n-gtrp"><rect class="g" x="1080" y="625" width="8" height="8"/><text x="1083" y="649">Green Turtle Research Program</text></g>
<g id="n-daff"><circle class="g" cx="1138" cy="622.7" r="8"/><text x="1138" y="643">DAFF</text></g>
<g id="n-zoning"><polygon class="g" points="1083.4,667.6 1093.4,677.6 1083.4,687.6 1073.4,677.6"/><text x="1083.6" y="702">Reef Zoning Plan</text></g>
<g id="n-mba"><polygon class="g" points="1277,648.8 1285,656.8 1277,664.8 1269,656.8"/><text x="1277" y="677.8">Migratory Bird Agreements</text></g>
<g id="n-cfhsp"><circle class="g" cx="1181.4" cy="754" r="4.5"/><text x="1182" y="773">Commonwealth Fisheries Harvest Strategy Policy</text></g>
<g id="n-rjfmp"><rect class="g" x="934.5" y="615.7" width="14" height="14"/><text x="942" y="644">Reef Joint Field Management Program</text></g>
<g id="n-eye"><rect class="g" x="917" y="646" width="16" height="16"/><text x="925" y="676.4">Eye on the Reef</text></g>
<g id="n-ramsar"><polygon class="g" points="838.8,659.8 843.8,664.8 838.8,669.8 833.8,664.8"/><text x="832" y="682.7">Ramsar Convention on Wetlands</text></g>
<g id="n-qsfs"><polygon class="g" points="836.4,690 843.4,697 836.4,704 829.4,697"/><text x="831" y="718">Queensland Sustainable Fisheries Strategy</text></g>
<g id="n-rcrp"><circle class="g" cx="903" cy="718" r="4.5"/><text x="903" y="734.8">Reef Councils Rescue Plan</text></g>
<g id="n-charter"><polygon class="g" points="966,755 971,760 966,765 961,760"/><text x="966.5" y="779">Charter Fishing Action Plan</text></g>
<g id="n-qhsp"><polygon class="g" points="897.7,800 903.7,806 897.7,812 891.7,806"/><text x="897.7" y="826.5">Queensland harvest strategy policy</text></g>
<g id="n-sugar"><circle class="g" cx="905" cy="834" r="5"/><text x="906" y="852">Sugar Research Australia</text></g>
<g id="n-mds"><polygon class="g" points="738,802 743,807 738,812 733,807"/><text x="739" y="825">Maintenance Dredging Strategy</text></g>
<g id="n-pmp"><polygon class="g" points="600.8,866.8 608.8,874.8 600.8,882.8 592.8,874.8"/><text x="600.6" y="895.8">Port Master Plans</text></g>
<g id="n-rcsa"><circle class="g" cx="652.8" cy="659.8" r="12"/><text x="652" y="685">Reef Citizen Science Alliance</text></g>
<g id="n-wcs"><polygon class="g" points="606.6,701.6 614.6,709.6 606.6,717.6 598.6,709.6"/><text x="606.6" y="731.5">Wetland Catchment Strategy</text></g>
<g id="n-twq"><circle class="g" cx="554" cy="704.7" r="5"/><text x="554" y="724">TWQ</text></g>
<g id="n-lmac"><circle class="g" cx="730.4" cy="587.8" r="10"/><text x="731" y="610.3">LMAC</text></g>
<g id="n-cag"><circle class="g" cx="627.8" cy="576.5" r="5"/><text x="627.8" y="596">CAG</text></g>
<g id="n-daf"><circle class="g" cx="542.5" cy="550.7" r="8"/><text x="542" y="572">DAF</text></g>
<g id="n-qbs"><text x="793" y="586.7">Queensland Biosecurity Strategy 2018-2023</text></g>
<g id="n-qcas"><text x="784" y="509.5">Queensland Climate Adaptation Strategy</text></g>
<g id="n-reefblue"><circle class="g" cx="875" cy="540.4" r="8"/><text x="865" y="563">Reef Blueprint</text></g>
<g id="n-des"><circle class="g" cx="541" cy="454" r="18"/><text x="541.5" y="489">DES</text></g>
<g id="n-primary"><circle class="g" cx="435" cy="384" r="6"/><text x="435.6" y="403.5">Primary producers</text></g>
<g id="n-oqm"><circle class="g" cx="492" cy="299" r="6"/><text x="491.4" y="319.7">Office of QLD Minister</text></g>
<g id="n-gbrf"><circle class="g" cx="585" cy="278" r="8"/><text x="585.2" y="300.2">GBRF</text></g>
<g id="n-rrc"><circle class="g" cx="621.5" cy="216" r="12"/><text x="620.3" y="243">RRC</text></g>
<g id="n-tropwater"><circle class="g" cx="618.6" cy="114" r="6"/><text x="618.6" y="134">TropWATER</text></g>
<g id="n-ofm"><circle class="g" cx="801.4" cy="217" r="6"/><text x="800" y="237.5">Office of Fed Minister</text></g>
<g id="n-cotsop"><text x="810" y="275.6">Operational strategy for COTS control</text></g>
<g id="n-qhra"><circle class="g" cx="623" cy="318" r="4.5"/><text x="623" y="336.7">QLD Human Rights Act 2019</text></g>
<g id="n-nrmgroups"><circle class="g" cx="260" cy="230" r="12"/><text x="260.3" y="255.9">NRM Groups</text></g>
<g id="n-terrain"><circle class="g" cx="265.4" cy="272.5" r="4.5"/><text x="265.3" y="290.3">Terrain NRM</text></g>
<g id="n-coutts"><circle class="g" cx="320.4" cy="326.6" r="5"/><text x="320.4" y="344.6">Coutts J&amp;R</text></g>
<g id="n-nqdt"><circle class="g" cx="118.4" cy="392.8" r="5"/><text x="118.4" y="411.4">NQ Dry Tropics</text></g>
<g id="n-dr"><circle class="g" cx="220" cy="446.8" r="6"/><text x="220.8" y="464.9">DR</text></g>
<g id="n-drdmw"><circle class="g" cx="108" cy="453" r="5"/><text x="108" y="471">DRDMW</text></g>
<g id="n-canegrowers"><circle class="g" cx="63.8" cy="537.4" r="5"/><text x="63.8" y="555.8">Canegrowers</text></g>
<g id="n-creekwatch"><rect class="g" x="186.7" y="693.7" width="8" height="8"/><text x="190.7" y="716.6">Creekwatch</text></g>
<g id="n-seagrass"><rect class="g" x="280" y="714.5" width="8" height="8"/><text x="285.3" y="736">Seagrass Watch</text></g>
<g id="n-reefcheck"><rect class="g" x="447.4" y="735" width="8" height="8"/><text x="450.7" y="758.4">Reef Check</text></g>
<g id="n-owers"><text x="20.5" y="720.5" style="text-anchor:start">owers Council</text></g>
<g id="n-landcare"><circle class="g" cx="98" cy="811.7" r="5"/><text x="98" y="828.7">Landcare</text></g>
<g id="n-dsdilgp"><circle class="g" cx="232.3" cy="831" r="6"/><text x="232.3" y="849.4">DSDILGP</text></g>
<g id="n-risp"><circle class="g" cx="336" cy="856" r="5"/><text x="335.4" y="873.4">RISP</text></g>
<g id="n-developers"><circle class="g" cx="374" cy="852.8" r="6"/><text x="374" y="870.4">Developers</text></g>
<g id="n-rgs"><circle class="g" cx="408" cy="870" r="5"/><text x="408" y="886.7">Reef Guardian Schools</text></g>
<g id="n-planningact"><circle class="g" cx="195.3" cy="918.7" r="6"/><text x="196" y="937">Planning Act 2016</text></g>
<g id="n-uwsf"><text x="580" y="794.6">Urban Water Stewardship Framework</text></g>
</g>
<g id="highlighted-nodes">
<g id="n-big-diamond"><polygon points="1061,358 1114,411 1061,464.5 1008,411" fill="#f5593b" stroke="#3a2a2a" stroke-width=".8"/></g>
<g id="n-vegmachine"><rect class="r" x="354.55" y="33.95" width="10.5" height="10.5"/><text x="359.8" y="57.5">VegMachine</text></g>
<g id="n-uplift"><rect class="r" x="269.55" y="150.05" width="10.5" height="10.5"/><text x="275" y="173.3">Uplift Farming Systems Initiative</text></g>
<g id="n-pioneer"><rect class="r" x="408.3" y="158.5" width="11" height="11"/><text x="411" y="183">Project Pioneer</text></g>
<g id="n-reefalliance"><rect class="r" x="319.4" y="199.7" width="12" height="12"/><text x="326" y="224.5">Reef Alliance</text></g>
<g id="n-reefonomics"><rect class="r" x="323.4" y="247.4" width="10" height="10"/><text x="329" y="269.4">Reefonomics</text></g>
<g id="n-burdekin"><rect class="r" x="281.1" y="301" width="11" height="11"/><text x="290" y="324">Burdekin Major Integrated Project</text></g>
<g id="n-canechanger"><rect class="r" x="226" y="398.8" width="11" height="11"/><text x="231.5" y="423">Cane Changer</text></g>
<g id="n-forage"><rect class="r" x="74.4" y="468" width="10" height="10"/><text x="79.3" y="491.6">Forage Budgets</text></g>
<g id="n-waters"><rect class="r" x="305.4" y="527.7" width="10" height="10"/><text x="310.4" y="551">WATERS</text></g>
<g id="n-reefcredit"><rect class="r" x="103.25" y="573.25" width="9.5" height="9.5"/><text x="108.8" y="596">Reef Credit Scheme</text></g>
<g id="n-wettropics"><rect class="r" x="148.7" y="634.2" width="13" height="13"/><text x="155" y="662.8">Wet Tropics Major Integrated Project</text></g>
<g id="n-creek"><rect class="r" x="260.4" y="745.5" width="16" height="16"/><text x="268.5" y="774.9">Creek to Coral</text></g>
<g id="n-gladstone"><rect class="r" x="326.5" y="708.5" width="9" height="9"/><text x="335" y="731.5">Gladstone Healthy Harbour Partnership</text></g>
<g id="n-mackay"><rect class="r" x="414.3" y="653.4" width="10" height="10"/><text x="419" y="677">Mackay-Whitsunday-Isaac Healthy Rivers to Reef Partnership</text></g>
<g id="n-townsville"><rect class="r" x="432" y="678.6" width="10" height="10"/><text x="438" y="702">Townsville Dry Tropics Partnership for Healthy Waters</text></g>
<g id="n-reportcard"><rect class="r" x="468.9" y="680.2" width="15" height="15"/><text x="476" y="709">Reef Report Card</text></g>
<g id="n-wthwp"><rect class="r" x="453" y="702.5" width="10" height="10"/><text x="455" y="726">Wet Tropics Healthy Waterways Partnership</text></g>
<g id="n-fitzroyp"><rect class="r" x="423.3" y="750.4" width="10" height="10"/><text x="428" y="775.3">Fitzroy Partnership for River Health</text></g>
<g id="n-enhanced"><rect class="r" x="617.75" y="756.75" width="8.5" height="8.5"/><text x="621.5" y="779">Enhanced efficiency fertilisers</text></g>
<g id="n-guardians"><rect class="r" x="597.3" y="791" width="10" height="10"/><text x="602.4" y="815">Reef Guardians</text></g>
<g id="n-merit"><rect class="r" x="766.5" y="637.5" width="9" height="9"/><text x="770.5" y="662.8">MERIT</text></g>
<g id="n-ranger"><rect class="r" x="870" y="510.8" width="14" height="14"/><text x="877" y="539.3">Indigenous Land and Sea Ranger Program</text></g>
<g id="n-paddock"><rect class="r" x="547" y="420.5" width="19" height="19"/><text x="557" y="453.4">Paddock to Reef</text></g>
<g id="n-wetlandinfo"><rect class="r" x="587.3" y="381.2" width="10" height="10"/><text x="592" y="404.6">WetlandInfo</text></g>
<g id="n-marinemon"><rect class="r" x="795.5" y="402.9" width="13" height="13"/><text x="801.5" y="430">Marine Monitoring Program</text></g>
<g id="n-seltmp"><rect class="r" x="742" y="305.6" width="12" height="12"/><text x="748" y="330">SELTMP</text></g>
<g id="n-cefc"><rect class="r" x="793.5" y="273.1" width="9" height="9"/><text x="798" y="296">CEFC</text></g>
<g id="n-gullyerosion"><rect class="r" x="618.5" y="152.9" width="11" height="11"/><text x="624" y="177.4">Gully and Stream Bank Erosion Control Program</text></g>
<g id="n-ereefs"><rect class="r" x="639.5" y="183.7" width="13" height="13"/><text x="645.4" y="209.7">eReefs</text></g>
<g id="n-twqhub"><rect class="r" x="678" y="190.4" width="12" height="12"/><text x="684" y="215.9">Tropical Water Quality Hub</text></g>
<g id="n-toolbox"><polygon class="r" points="487.7,88 493.2,93.5 487.7,99 482.2,93.5"/><text x="488" y="113.5">The Gully and Stream Bank Toolbox</text></g>
<g id="n-landrest"><polygon class="r" points="619,238 624,243 619,248 614,243"/><text x="619" y="261.7">Land Restoration Fund</text></g>
<g id="n-nrmbmp"><polygon class="r" points="203.2,322 208.2,327 203.2,332 198.2,327"/><text x="204" y="345">NRM Best Management Practices</text></g>
<g id="n-practice"><polygon class="r" points="236.5,351.5 241,356 236.5,360.5 232,356"/><text x="237" y="374.4">Practice change, Education and Extension in Reef Catchments Project</text></g>
<g id="n-pointsource"><polygon class="r" points="310.4,492.7 315.4,497.7 310.4,502.7 305.4,497.7"/><text x="314" y="515.6">Point Source Water Quality Offsets Policy 2019</text></g>
<g id="n-epp"><polygon class="r" points="200.2,556.8 204.7,561.3 200.2,565.8 195.7,561.3"/><text x="200" y="579">Environmental Protection Policy (Water) 2009</text></g>
<g id="n-erosion"><polygon class="r" points="281,672.5 285.5,677 281,681.5 276.5,677"/><text x="281" y="695.6">Erosion and Sediment Control</text></g>
<g id="n-stateplanning"><polygon class="r" points="352.4,821 359.4,828 352.4,835 345.4,828"/><text x="355" y="849.4">State Planning Policy</text></g>
<g id="n-r2050pif"><polygon class="r" points="751,385 759.5,393.5 751,402 742.5,393.5"/><text x="751" y="415">Reef 2050 Plan Investment Framework</text></g>
<g id="n-scs2017"><polygon class="r" points="662.4,422.3 667.4,427.3 662.4,432.3 657.4,427.3"/><text x="663" y="445.8">2017 Scientific Consensus Statement</text></g>
<g id="n-rwqrdi"><polygon class="r" points="708.5,456.2 713.5,461.2 708.5,466.2 703.5,461.2"/><text x="708" y="480">RWQ Research, Development and Innovation Strategy</text></g>
<g id="n-rwqip"><polygon class="r" points="562.2,479 567.2,484 562.2,489 557.2,484"/><text x="562.6" y="503.3">Regional Water Quality Improvement Plans</text></g>
<g id="n-landact"><circle class="r" cx="279" cy="394" r="4.5"/><text x="279" y="412.2">Land Act 1994</text></g>
<g id="n-wateract"><circle class="r" cx="260.3" cy="423.4" r="4.5"/><text x="261" y="441">Water Act 2000</text></g>
<g id="n-vegmgmt"><circle class="r" cx="192" cy="428.5" r="4"/><text x="192" y="446.4">Vegetation Management Act 1999</text></g>
<g id="n-envreg"><circle class="r" cx="314" cy="565.5" r="4.5"/><text x="318" y="584">Environmental Protection Regulation 2019</text></g>
<g id="n-epa1994"><circle class="r" cx="290.8" cy="612.9" r="7"/><text x="291" y="634">Environmental Protection Act 1994</text></g>
<g id="n-chemical"><circle class="r" cx="411.8" cy="596.7" r="4"/><text x="410" y="614">Chemical Usage (Agricultural and Veterinary) Control Act 1988</text></g>
<g id="n-reefprot"><circle class="r" cx="506" cy="527" r="6"/><text x="506.5" y="546.5">Reef Protection Regulations</text></g>
<g id="n-waste"><circle class="r" cx="680" cy="472" r="5"/><text x="678" y="490">Waste Reduction and Recycling Amendment Act 2017</text></g>
<g id="n-epbc"><circle class="r" cx="1098" cy="329" r="6"/><text x="1098" y="348.5">Environment Protection and Biodiversity Conservation Act 1999</text></g>
<g id="n-reeftrust"><circle class="y" cx="453.3" cy="164.5" r="7"/><text x="453" y="185">Reef Trust</text></g>
<g id="n-ogbr"><circle class="y" cx="462.6" cy="245.8" r="7.5"/><text x="462.6" y="266.7">OGBR</text></g>
<g id="n-iep"><circle class="y" cx="552.3" cy="348.7" r="6.5"/><text x="552.2" y="368.6">IEP</text></g>
<g id="n-esc"><circle class="y" cx="650.4" cy="387.9" r="8.5"/><text x="650.3" y="409.4">ESC</text></g>
<g id="n-isp"><circle class="y" cx="527.2" cy="579" r="8.5"/><text x="527.6" y="600.7">ISP</text></g>
<g id="n-dcceew"><circle class="y" cx="938.9" cy="178.5" r="16"/><text x="939" y="208.7">DCCEEW</text></g>
<g id="n-fwqip"><rect x="409" y="416" width="66" height="66" fill="#8ee5ee" stroke="#9e1b1b" stroke-width="1.6"/><text x="442.5" y="494.5">FWQIP</text></g>
</g>
</g>
</g>
</svg>
